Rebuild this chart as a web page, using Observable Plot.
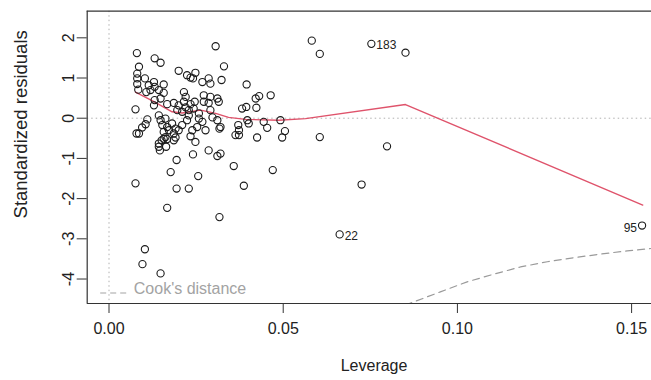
<!DOCTYPE html>
<html><head><meta charset="utf-8">
<script src="https://cdn.jsdelivr.net/npm/d3@7"></script>
<script src="https://cdn.jsdelivr.net/npm/@observablehq/plot@0.6"></script>
<style>
html,body{margin:0;padding:0;background:#fff;}
#chart svg{display:block;overflow:hidden;}
</style></head><body><div id="chart"></div>
<script>
const leverage = [
0.0080,0.0131,0.0148,0.0086,0.0081,0.0081,0.0081,0.0084,0.0103,0.0114,
0.0129,0.0131,0.0119,0.0143,0.0157,0.0157,0.0107,0.0200,0.0224,0.0234,
0.0248,0.0241,0.0215,0.0220,0.0131,0.0148,0.0167,0.0129,0.0076,0.0306,
0.0330,0.0268,0.0286,0.0291,0.0323,0.0395,0.0464,0.0421,0.0431,0.0423,
0.0382,0.0394,0.0272,0.0291,0.0311,0.0315,0.0286,0.0272,0.0291,0.0297,
0.0311,0.0320,0.0317,0.0258,0.0258,0.0253,0.0268,0.0277,0.0397,0.0401,
0.0371,0.0373,0.0363,0.0444,0.0454,0.0492,0.0505,0.0425,0.0497,0.0110,
0.0105,0.0095,0.0079,0.0086,0.0143,0.0148,0.0162,0.0153,0.0167,0.0172,
0.0157,0.0181,0.0191,0.0186,0.0200,0.0210,0.0224,0.0229,0.0239,0.0186,
0.0200,0.0215,0.0220,0.0234,0.0246,0.0196,0.0210,0.0229,0.0243,0.0162,
0.0191,0.0234,0.0143,0.0143,0.0146,0.0151,0.0157,0.0167,0.0164,0.0186,
0.0248,0.0194,0.0241,0.0256,0.0177,0.0076,0.0194,0.0229,0.0167,0.0286,
0.0311,0.0320,0.0358,0.0470,0.0387,0.0317,0.0103,0.0096,0.0148,0.0582,
0.0605,0.0753,0.0851,0.0605,0.0798,0.0725,0.0662,0.1530,0.0373
];
const stdResid = [
1.62,1.49,1.38,1.28,1.11,0.99,0.85,0.71,0.99,0.82,
0.90,0.78,0.70,0.70,0.84,0.63,0.65,1.18,1.07,1.01,
1.13,0.99,0.65,0.53,0.45,0.49,0.35,0.32,0.22,1.79,
1.29,0.90,0.99,0.86,0.95,0.84,0.57,0.49,0.55,0.26,
0.24,0.28,0.57,0.53,0.49,0.41,0.38,0.41,0.20,0.02,
-0.05,-0.22,-0.26,0.12,-0.01,-0.22,-0.09,-0.30,-0.05,-0.13,
-0.17,-0.30,-0.42,-0.09,-0.24,-0.05,-0.32,-0.48,-0.48,-0.03,
-0.15,-0.23,-0.38,-0.38,0.07,-0.05,-0.01,-0.17,-0.22,-0.30,
-0.34,-0.13,-0.26,-0.38,-0.30,-0.17,-0.05,0.07,-0.30,0.38,
0.32,0.41,0.27,0.35,0.41,0.20,0.16,0.20,0.24,-0.47,
-0.48,-0.45,-0.63,-0.71,-0.80,-0.55,-0.51,-0.52,-0.71,-0.55,
-0.59,-1.04,-0.90,-1.44,-1.34,-1.62,-1.75,-1.75,-2.23,-0.80,
-0.94,-0.88,-1.19,-1.29,-1.68,-2.46,-3.26,-3.63,-3.86,1.93,
1.60,1.85,1.63,-0.47,-0.70,-1.65,-2.89,-2.67,-0.42
];
const labelIds = ["183","22","95"];
const labelLeverage = [0.0753,0.0662,0.1530];
const labelResid = [1.85,-2.89,-2.67];
const labelSide = ["right","right","left"];

const smoothLeverage = [0.0076,0.0129,0.0181,0.0210,0.0263,0.0306,0.0343,0.0392,0.0487,0.0564,0.0851,0.1532];
const smoothResid    = [0.65,0.41,0.16,0.13,0.20,0.12,0.02,-0.03,-0.05,-0.01,0.34,-2.16];

const cookLeverage = [0.0850,0.0951,0.1028,0.1104,0.1181,0.1258,0.1334,0.1411,0.1487,0.1557];
const cookResid    = [-4.65,-4.32,-4.07,-3.88,-3.70,-3.57,-3.47,-3.38,-3.30,-3.24];

const xTicks = [0,0.05,0.10,0.15];
const xTickLabels = ["0.00","0.05","0.10","0.15"];
const yTicks = [-4,-3,-2,-1,0,1,2];
const yTickLabels = ["-4","-3","-2","-1","0","1","2"];

const points = leverage.map((h,i)=>({h, r: stdResid[i]}));
const smooth = smoothLeverage.map((h,i)=>({h, r: smoothResid[i]}));
const cook = cookLeverage.map((h,i)=>({h, r: cookResid[i]}));
const labels = labelIds.map((id,i)=>({id, h: labelLeverage[i], r: labelResid[i], side: labelSide[i]}));

const xDomain = [-0.00626, 0.15571];
const yDomain = [-4.609, 2.662];
const axisColor = "#333";
const font = "'Liberation Sans', Arial, Helvetica, sans-serif";

const plot = Plot.plot({
  width: 651, height: 380,
  marginLeft: 86.7, marginRight: 0, marginTop: 10.7, marginBottom: 77,
  style: {fontFamily: font, fontSize: "16px", background: "#fff", color: "#222"},
  x: {domain: xDomain, label: null},
  y: {domain: yDomain, label: null},
  marks: [
    Plot.ruleX([0], {stroke: "#b0b0b0", strokeDasharray: "1.5,3"}),
    Plot.ruleY([0], {stroke: "#b0b0b0", strokeDasharray: "1.5,3"}),
    Plot.line(cook, {x: "h", y: "r", stroke: "#9a9a9a", strokeWidth: 1.2, strokeDasharray: "7,5", clip: true}),
    Plot.line(smooth, {x: "h", y: "r", stroke: "#DF536B", strokeWidth: 1.4}),
    Plot.dot(points, {x: "h", y: "r", r: 3.6, stroke: "#1a1a1a", strokeWidth: 1.1}),
    Plot.text(labels.filter(d=>d.side==="right"), {x: "h", y: "r", text: "id", textAnchor: "start", dx: 5, dy: 1.5, fontSize: 12, fill: "#222"}),
    Plot.text(labels.filter(d=>d.side==="left"), {x: "h", y: "r", text: "id", textAnchor: "end", dx: -5, dy: 2.5, fontSize: 12, fill: "#222"}),
    // frame (left, top, bottom)
    Plot.ruleX([xDomain[0]], {stroke: axisColor, strokeWidth: 1.2}),
    Plot.ruleY([yDomain[0], yDomain[1]], {stroke: axisColor, strokeWidth: 1.2}),
    // axes
    Plot.axisX({ticks: xTicks, tickSize: 10, tickFormat: () => "", stroke: axisColor, label: null}),
    Plot.axisY({ticks: yTicks, tickSize: 10, tickFormat: () => "", stroke: axisColor, label: null}),
    Plot.text(xTicks, {x: d => d, text: (d,i) => xTickLabels[i], frameAnchor: "bottom", dy: 30, fill: "#222"}),
    Plot.text(yTicks, {y: d => d, text: (d,i) => yTickLabels[i], frameAnchor: "left", textAnchor: "middle", dx: -18.7, rotate: -90, fill: "#222"}),
    Plot.text(["Leverage"], {frameAnchor: "bottom", dx: 4.7, dy: 67, fill: "#222"}),
    Plot.text(["Standardized residuals"], {frameAnchor: "left", textAnchor: "middle", dx: -65.7, dy: -33, rotate: -90, fontSize: 18.5, fill: "#222"}),
    Plot.text(["Cook's distance"], {frameAnchor: "bottom-left", dx: 46.6, dy: -10, textAnchor: "start", fill: "#a3a3a3"})
  ]
});
document.getElementById("chart").appendChild(plot);
// legend key (dashed line) placed relative to the frame's bottom-left corner
d3.select(plot).append("line")
  .attr("x1", 86.7 + 13.5).attr("x2", 86.7 + 42)
  .attr("y1", 303 - 10).attr("y2", 303 - 10)
  .attr("stroke", "#a3a3a3").attr("stroke-width", 1.2).attr("stroke-dasharray", "6,4");
</script></body></html>
